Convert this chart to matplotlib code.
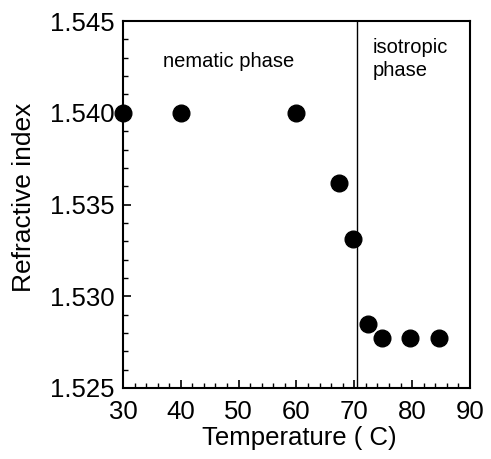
import matplotlib
matplotlib.use("Agg")
import matplotlib.pyplot as plt
from matplotlib.ticker import MultipleLocator

plt.rcParams['font.family'] = ['Liberation Sans', 'DejaVu Sans']

temperature = [30, 40, 60, 67.3, 69.7, 72.4, 74.8, 79.7, 84.7]
refractive_index = [1.5400, 1.5400, 1.5400, 1.5362, 1.5331, 1.5285, 1.5277, 1.5277, 1.5277]
transition_temp = 70.5
xticks = [30, 40, 50, 60, 70, 80, 90]
yticks = [1.525, 1.530, 1.535, 1.540, 1.545]

fig = plt.figure(figsize=(4.91, 4.59), dpi=100)
ax = fig.add_axes([0.2505, 0.1547, 0.7065, 0.7993])

ax.plot(temperature, refractive_index, 'o', color='black', markersize=12, clip_on=False, zorder=5)
ax.axvline(transition_temp, color='black', linewidth=1.0)

ax.set_xlim(30, 90)
ax.set_ylim(1.525, 1.545)
ax.set_xticks(xticks)
ax.set_yticks(yticks)
ax.set_yticklabels([f"{v:.3f}" for v in yticks])
ax.xaxis.set_minor_locator(MultipleLocator(2))
ax.yaxis.set_minor_locator(MultipleLocator(0.001))

ax.tick_params(axis='both', which='both', direction='in', top=False, right=False, labelsize=18.5)
ax.tick_params(which='major', length=6, width=1.2)
ax.tick_params(which='minor', length=3.5, width=1.0)
ax.tick_params(axis='x', pad=9)
ax.tick_params(axis='y', pad=6)
for s in ax.spines.values():
    s.set_linewidth(1.5)

ax.set_xlabel('Temperature ( C)', fontsize=18.5)
ax.set_ylabel('Refractive index', fontsize=19)
ax.xaxis.set_label_coords(0.507, -0.103)
ax.yaxis.set_label_coords(-0.25, 0.52)

ax.text(36.9, 1.5428, 'nematic phase', fontsize=14.5, va='center', ha='left')
ax.text(73.2, 1.5441, 'isotropic\nphase', fontsize=14.5, va='top', ha='left', linespacing=1.3)

fig.savefig('out.png', dpi=100)
